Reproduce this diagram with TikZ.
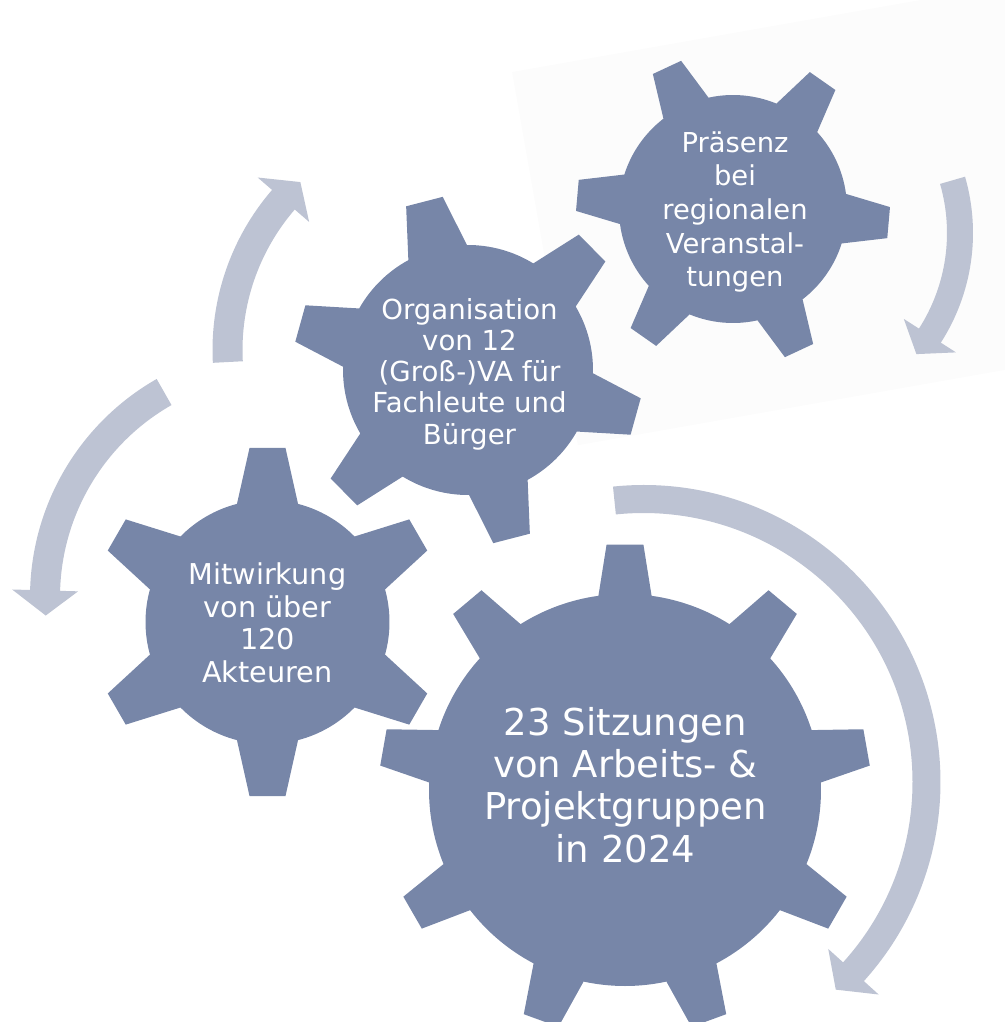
\documentclass[tikz,border=0pt]{standalone}
\usepackage{fontspec}
\setmainfont{DejaVu Sans}
\definecolor{gearc}{RGB}{119,134,168}
\definecolor{arrc}{RGB}{189,195,211}
\definecolor{bgc}{RGB}{252,252,252}
% #1 centre, #2 teeth, #3 first tooth angle, #4 outer radius, #5 body radius, #6 tip half-angle, #7 base half-angle
\newcommand{\drawgear}[7]{%
  \begin{scope}[shift={#1}]
    \pgfmathsetmacro{\gstep}{360/#2}
    \pgfmathtruncatemacro{\glast}{#2-1}
    \fill[gearfill] ({#3-#7}:#5pt)
      \foreach \gi in {0,...,\glast}{
        -- ({#3+\gi*\gstep-#6}:#4pt) -- ({#3+\gi*\gstep+#6}:#4pt) -- ({#3+\gi*\gstep+#7}:#5pt)
        arc[start angle={#3+\gi*\gstep+#7}, end angle={#3+(\gi+1)*\gstep-#7}, radius=#5pt]
      } -- cycle;
  \end{scope}}
% #1 centre, #2 radius, #3 half width, #4 head half width, #5 tail angle, #6 head base angle, #7 tip angle
\newcommand{\drawcirc}[7]{%
  \begin{scope}[shift={#1}]
    \pgfmathsetmacro{\cro}{#2+#3}
    \pgfmathsetmacro{\cri}{#2-#3}
    \pgfmathsetmacro{\cho}{#2+#4}
    \pgfmathsetmacro{\chi}{#2-#4}
    \fill[arrowfill] (#5:\cro pt) arc[start angle=#5, end angle=#6, radius=\cro pt]
      -- (#6:\cho pt) -- (#7:#2pt) -- (#6:\chi pt) -- (#6:\cri pt)
      arc[start angle=#6, end angle=#5, radius=\cri pt] -- cycle;
  \end{scope}}
\begin{document}
\begin{tikzpicture}[x=1pt,y=1pt,
  gearfill/.style={fill=gearc},
  arrowfill/.style={fill=arrc},
  lbl/.style={text=white, align=center, inner sep=0pt}]
\useasboundingbox (0,0) rectangle (1004,-1022);
% faint background panel behind the upper gear
\fill[bgc, rotate around={10:(512,-72)}] (512,-72) rectangle ++(600,-379);
% gears
\drawgear{(733,-209)}{6}{115}{157}{114}{5.7}{12.6}
\drawgear{(468,-370)}{6}{104.5}{175}{125}{6.2}{14}
\drawgear{(267.5,-622)}{6}{90}{175}{122}{5.9}{14.5}
\drawgear{(625,-790)}{9}{90}{246}{196}{4.3}{7.8}
% circular arrows
\drawcirc{(457.5,-350)}{230}{15}{34}{183}{139.2}{133.1}
\drawcirc{(281,-597)}{236}{15}{33}{119.7}{178.4}{184.5}
\drawcirc{(770,-233)}{190}{13}{31}{16.1}{-32.7}{-39.6}
\drawcirc{(643.5,-782)}{283}{14}{34}{95.9}{-42.1}{-47.2}
% texts
\node[lbl, font=\fontsize{27.4}{33.7}\selectfont] (pra) at (735,-212) {Präsenz\\bei\\regionalen\\Veranstal-\\tungen};
\node[lbl, font=\fontsize{27.6}{31.3}\selectfont] (org) at (469.5,-374) {Organisation\\von 12\\(Groß-)VA für\\Fachleute und\\Bürger};
\node[lbl, font=\fontsize{28.7}{32.5}\selectfont] (mit) at (267.5,-623) {Mitwirkung\\von über\\120\\Akteuren};
\node[lbl, font=\fontsize{37}{42.3}\selectfont] (big) at (625.5,-785) {23 Sitzungen\\von Arbeits- \&\\Projektgruppen\\in 2024};
\end{tikzpicture}
\end{document}
